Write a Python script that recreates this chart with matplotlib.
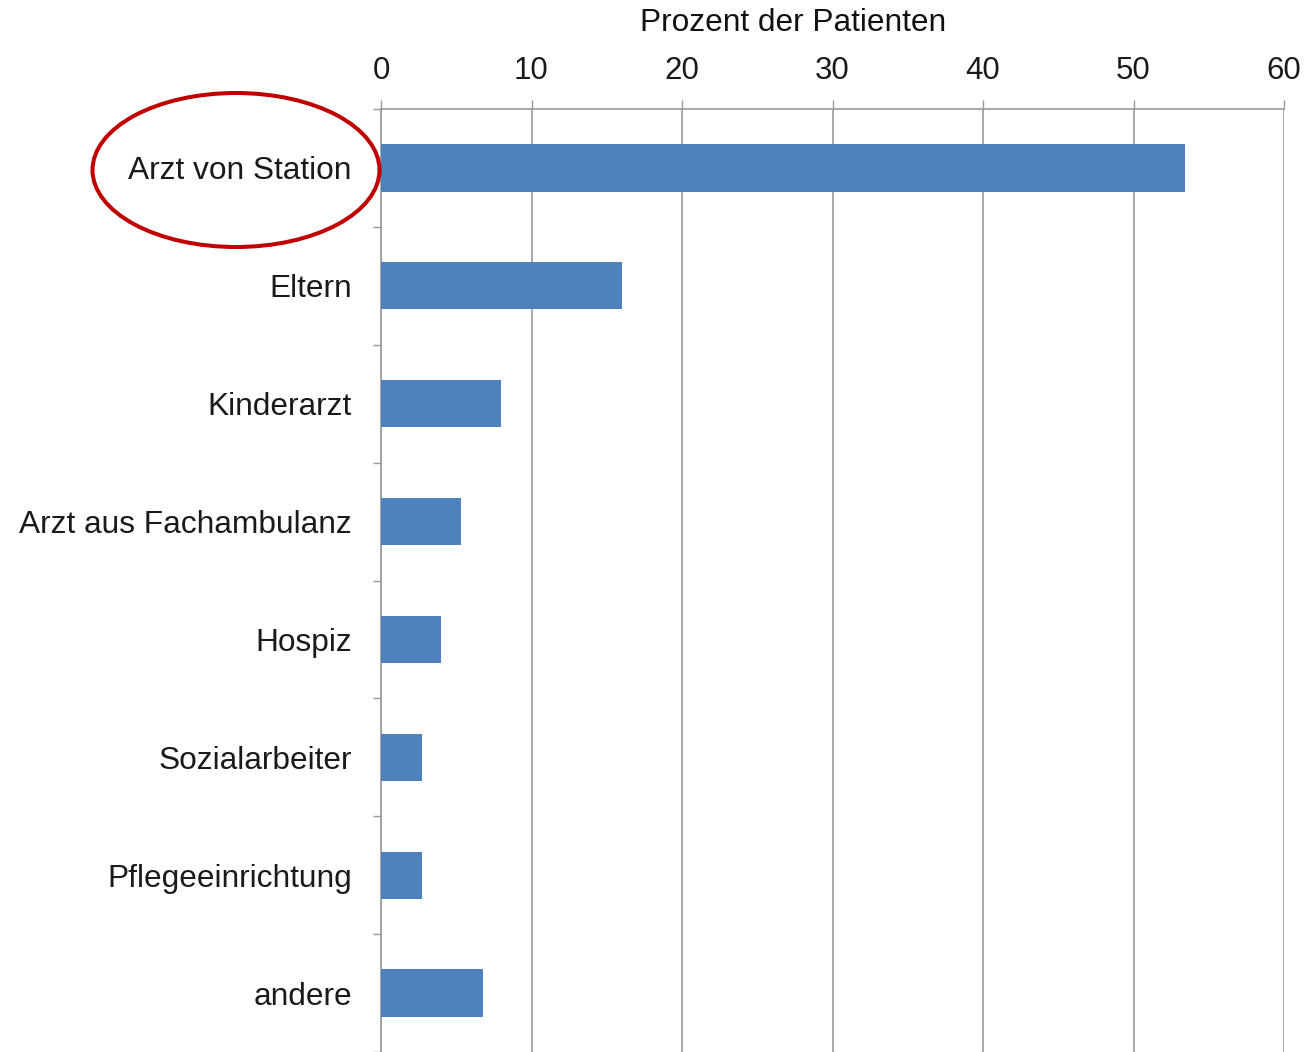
import numpy as np
import matplotlib.pyplot as plt
from matplotlib.patches import Ellipse

plt.rcParams['font.family'] = ['Liberation Sans', 'DejaVu Sans']

# share of patients per source (percent)
categories = ['Arzt von Station', 'Eltern', 'Kinderarzt', 'Arzt aus Fachambulanz',
              'Hospiz', 'Sozialarbeiter', 'Pflegeeinrichtung', 'andere']
percent = [53.4, 16.0, 8.0, 5.3, 4.0, 2.7, 2.7, 6.8]
x_ticks = [0, 10, 20, 30, 40, 50, 60]

fig = plt.figure(figsize=(13.06, 10.52), dpi=100)
ax = fig.add_axes([381 / 1306, 0.0, (1284 - 381) / 1306, 1 - 109 / 1052])

y = np.arange(len(categories))
ax.barh(y, percent, height=0.4, color='#4F81BD', zorder=3)

ax.set_xlim(0, 60)
ax.set_ylim(len(categories) - 0.5, -0.5)

ax.xaxis.tick_top()
ax.set_xticks(x_ticks)
ax.tick_params(axis='x', length=6.5, width=1, color='#999999', pad=10,
               labelsize=22.5, labelcolor='#1a1a1a')
ax.xaxis.grid(True, color='#999999', linewidth=1.2, zorder=0)

# labels at category centres, ticks at boundaries
ax.set_yticks(y)
ax.set_yticklabels(categories)
ax.set_yticks(np.arange(len(categories) + 1) - 0.5, minor=True)
ax.tick_params(axis='y', which='major', length=0, pad=21, labelsize=22.8,
               labelcolor='#1a1a1a')
ax.tick_params(axis='y', which='minor', length=6, width=1, color='#999999')

for side in ['right', 'bottom']:
    ax.spines[side].set_visible(False)
for side in ['top', 'left']:
    ax.spines[side].set_color('#999999')
    ax.spines[side].set_linewidth(1.2)

fig.text(793 / 1306, 1 - 23 / 1052, 'Prozent der Patienten', ha='center',
         va='center', fontsize=22.8, color='#111111')

# red highlight around first label
ell = Ellipse((236 / 1306, 1 - 170 / 1052), 287 / 1306, 154 / 1052,
              transform=fig.transFigure, fill=False, edgecolor='#C00000',
              linewidth=2.9)
fig.add_artist(ell)

fig.savefig('out.png', dpi=100, facecolor='white')
